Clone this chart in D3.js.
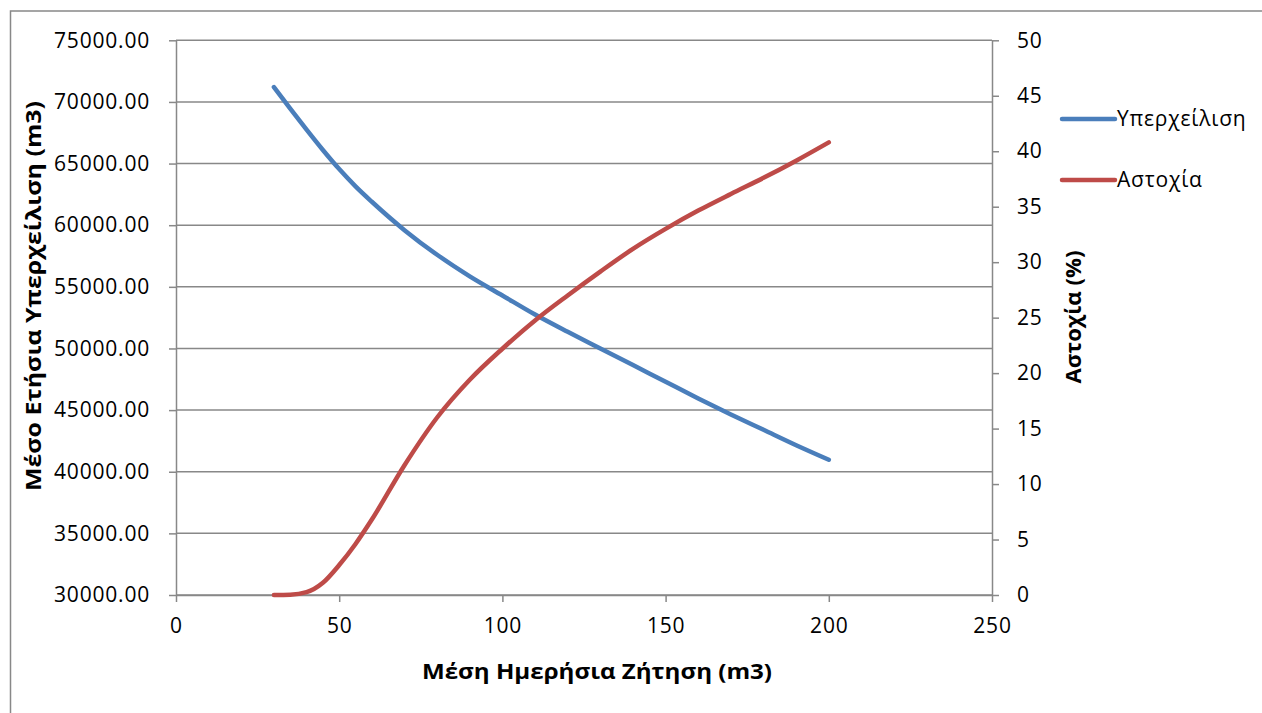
<!DOCTYPE html>
<html>
<head>
<meta charset="utf-8">
<script src="https://cdn.jsdelivr.net/npm/d3@7"></script>
<style>
  html, body { margin: 0; padding: 0; background: #fff; }
  svg { display: block; }
  text { font-family: "Open Sans", "DejaVu Sans", sans-serif; fill: #000; }
</style>
</head>
<body>
<svg id="chart" width="1262" height="713"></svg>
<script>
// ---- data ----
const demand = [30, 35, 40, 45, 50, 55, 60, 70, 80, 90, 100, 110, 120, 130, 140, 150, 160, 170, 180, 190, 200];
const overflow = [71200, 69450, 67750, 66100, 64550, 63150, 61900, 59600, 57600, 55850, 54300, 52750, 51350, 50000, 48650, 47300, 45950, 44650, 43400, 42150, 40970];
const failure = [0, 0.02, 0.25, 1.1, 2.7, 4.6, 6.8, 11.7, 16.0, 19.4, 22.2, 24.75, 27.0, 29.15, 31.2, 33.0, 34.65, 36.15, 37.6, 39.15, 40.8];
const seriesNames = ["Υπερχείλιση", "Αστοχία"];
const xTicks = [0, 50, 100, 150, 200, 250];
const yLeftTicks = [30000, 35000, 40000, 45000, 50000, 55000, 60000, 65000, 70000, 75000];
const yRightTicks = [0, 5, 10, 15, 20, 25, 30, 35, 40, 45, 50];
const xTitle = "Μέση Ημερήσια Ζήτηση (m3)";
const yLeftTitle = "Μέσο Ετήσια Υπερχείλιση (m3)";
const yRightTitle = "Αστοχία (%)";

// ---- layout ----
const L = 176, R = 992, T = 40.3, B = 595;
const colors = ["#4A7EBB", "#BE4B48"];
const gridColor = "#888888";

const svg = d3.select("#chart");

// outer frame
svg.append("rect").attr("x", 10.5).attr("y", 11).attr("width", 1300).attr("height", 800)
  .attr("fill", "none").attr("stroke", "#888").attr("stroke-width", 1.5);

const x = d3.scaleLinear().domain([0, 250]).range([L, R]);
const yL = d3.scaleLinear().domain([30000, 75000]).range([B, T]);
const yR = d3.scaleLinear().domain([0, 50]).range([B, T]);

// gridlines
svg.append("g").selectAll("line").data(yLeftTicks).join("line")
  .attr("x1", L).attr("x2", R)
  .attr("y1", d => yL(d)).attr("y2", d => yL(d))
  .attr("stroke", gridColor).attr("stroke-width", 1.5);

// axes
const fmt = d3.format(".2f");
const gL = svg.append("g").attr("transform", `translate(${L},0)`)
  .call(d3.axisLeft(yL).tickValues(yLeftTicks).tickFormat(fmt).tickSizeOuter(0).tickSizeInner(7).tickPadding(19));
const gR = svg.append("g").attr("transform", `translate(${R},0)`)
  .call(d3.axisRight(yR).tickValues(yRightTicks).tickFormat(d3.format("d")).tickSizeOuter(0).tickSizeInner(7).tickPadding(18));
const gX = svg.append("g").attr("transform", `translate(0,${B})`)
  .call(d3.axisBottom(x).tickValues(xTicks).tickFormat(d3.format("d")).tickSizeOuter(0).tickSizeInner(7).tickPadding(16));

[gL, gR, gX].forEach(g => {
  g.select(".domain").attr("stroke", gridColor).attr("stroke-width", 1.5);
  g.selectAll(".tick line").attr("stroke", gridColor).attr("stroke-width", 1.5);
  g.selectAll(".tick text").attr("font-size", 21).attr("font-family", "\"Open Sans\", sans-serif")
    .attr("fill", "#000").style("letter-spacing", "0.8px");
});

// lines
const lineL = d3.line().x((d, i) => x(demand[i])).y(d => yL(d)).curve(d3.curveMonotoneX);
const lineR = d3.line().x((d, i) => x(demand[i])).y(d => yR(d)).curve(d3.curveMonotoneX);

svg.append("path").datum(overflow).attr("d", lineL)
  .attr("fill", "none").attr("stroke", colors[0]).attr("stroke-width", 4.5).attr("stroke-linecap", "round");
svg.append("path").datum(failure).attr("d", lineR)
  .attr("fill", "none").attr("stroke", colors[1]).attr("stroke-width", 4.5).attr("stroke-linecap", "round");

// axis titles
svg.append("text").attr("x", 597).attr("y", 679).attr("text-anchor", "middle")
  .attr("font-size", 22).attr("font-weight", "bold")
  .attr("textLength", 350).attr("lengthAdjust", "spacingAndGlyphs").text(xTitle);
svg.append("text").attr("transform", "translate(41,296) rotate(-90)").attr("text-anchor", "middle")
  .attr("font-size", 22).attr("font-weight", "bold")
  .attr("textLength", 390).attr("lengthAdjust", "spacingAndGlyphs").text(yLeftTitle);
svg.append("text").attr("transform", "translate(1081,317) rotate(-90)").attr("text-anchor", "middle")
  .attr("font-size", 22).attr("font-weight", "bold")
  .attr("textLength", 133).attr("lengthAdjust", "spacingAndGlyphs").text(yRightTitle);

// legend
const legY = [119, 180];
seriesNames.forEach((name, i) => {
  svg.append("line").attr("x1", 1062).attr("x2", 1115).attr("y1", legY[i]).attr("y2", legY[i])
    .attr("stroke", colors[i]).attr("stroke-width", 4.5).attr("stroke-linecap", "round");
  svg.append("text").attr("x", 1117).attr("y", legY[i] + 7).attr("font-size", 21)
    .style("letter-spacing", "0.8px").text(name);
});
</script>
</body>
</html>
